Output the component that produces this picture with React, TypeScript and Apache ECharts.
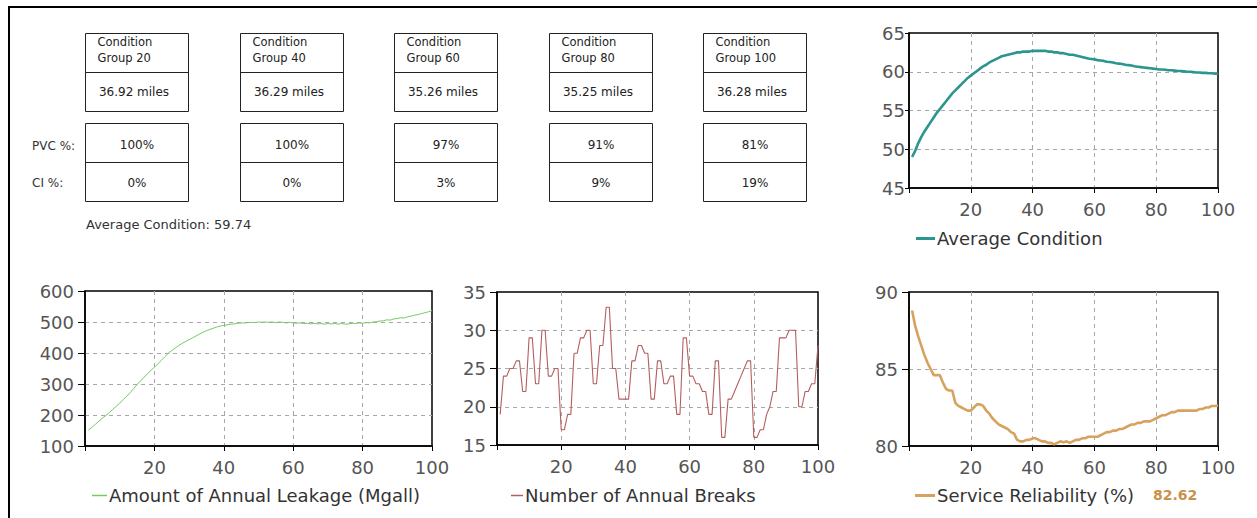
import React, { useEffect, useRef } from "react";
import * as echarts from "echarts";

// ---------- DATA ----------
const groupNames = ["Group 20", "Group 40", "Group 60", "Group 80", "Group 100"];
const groupMiles = ["36.92 miles", "36.29 miles", "35.26 miles", "35.25 miles", "36.28 miles"];
const pvcShares = ["100%", "100%", "97%", "91%", "81%"];
const ciShares = ["0%", "0%", "3%", "9%", "19%"];
const averageConditionText = "Average Condition: 59.74";
const reliabilityFinal = "82.62";

const xTicks = [0, 20, 40, 60, 80, 100];

const avgCondition = [
  49.0, 49.8, 50.8, 51.6, 52.3, 52.9, 53.5, 54.1, 54.7, 55.2,
  55.7, 56.2, 56.7, 57.2, 57.6, 58.0, 58.4, 58.8, 59.2, 59.5,
  59.8, 60.1, 60.4, 60.7, 60.9, 61.2, 61.4, 61.6, 61.8, 62.0,
  62.1, 62.2, 62.3, 62.4, 62.5, 62.5, 62.6, 62.6, 62.6, 62.7,
  62.7, 62.7, 62.7, 62.7, 62.6, 62.6, 62.5, 62.5, 62.4, 62.4,
  62.3, 62.2, 62.2, 62.1, 62.0, 61.9, 61.8, 61.7, 61.65, 61.6,
  61.5, 61.45, 61.4, 61.3, 61.25, 61.2, 61.1, 61.05, 61.0, 60.9,
  60.85, 60.8, 60.7, 60.65, 60.6, 60.55, 60.5, 60.45, 60.4, 60.35,
  60.3, 60.3, 60.25, 60.2, 60.2, 60.15, 60.1, 60.1, 60.05, 60.0,
  60.0, 59.95, 59.9, 59.9, 59.85, 59.85, 59.8, 59.8, 59.75, 59.74,
];

const annualLeakage = [
  152, 160, 170, 180, 190, 198, 208, 218, 228, 238,
  250, 260, 272, 285, 298, 310, 322, 333, 344, 354,
  365, 376, 388, 399, 408, 416, 424, 431, 437, 443,
  449, 455, 461, 467, 472, 476, 480, 484, 487, 489,
  491, 493, 494, 496, 497, 497, 498, 499, 498, 500,
  499, 500, 499, 500, 498, 500, 499, 497, 499, 497,
  496, 497, 495, 496, 494, 496, 494, 495, 493, 495,
  494, 495, 493, 495, 493, 494, 496, 495, 497, 496,
  498, 497, 500, 501, 503, 504, 507, 506, 510, 511,
  514, 513, 517, 519, 522, 524, 527, 530, 533, 537,
];

const annualBreaks = [
  19, 24, 24, 25, 25, 26, 26, 22, 22, 29,
  29, 23, 23, 30, 30, 24, 24, 25, 25, 17,
  17, 19, 19, 27, 27, 29, 29, 30, 30, 23,
  23, 28, 28, 33, 33, 25, 25, 21, 21, 21,
  21, 26, 26, 28, 28, 27, 27, 21, 21, 26,
  26, 23, 23, 24, 24, 19, 19, 29, 29, 24,
  24, 23, 23, 22, 22, 19, 19, 26, 26, 16,
  16, 21, 21, 22, 23, 24, 25, 26, 26, 16,
  16, 17, 17, 19, 20, 22, 22, 29, 29, 29,
  30, 30, 30, 20, 20, 22, 22, 23, 23, 28,
];

const serviceReliability = [
  88.8, 87.8, 87.1, 86.5, 85.9, 85.4, 85.0, 84.6, 84.6, 84.6,
  84.1, 83.7, 83.6, 83.6, 82.8, 82.6, 82.5, 82.4, 82.3, 82.3,
  82.5, 82.7, 82.7, 82.6, 82.3, 82.1, 81.8, 81.6, 81.4, 81.3,
  81.2, 81.1, 80.9, 80.8, 80.4, 80.3, 80.3, 80.4, 80.4, 80.5,
  80.5, 80.4, 80.3, 80.3, 80.2, 80.2, 80.1, 80.2, 80.3, 80.25,
  80.3, 80.2, 80.3, 80.4, 80.4, 80.5, 80.5, 80.6, 80.6, 80.6,
  80.6, 80.7, 80.8, 80.9, 80.9, 81.0, 81.0, 81.1, 81.1, 81.2,
  81.3, 81.4, 81.4, 81.5, 81.5, 81.6, 81.6, 81.6, 81.7, 81.8,
  81.9, 82.0, 82.0, 82.1, 82.2, 82.2, 82.3, 82.3, 82.3, 82.3,
  82.3, 82.3, 82.3, 82.4, 82.4, 82.5, 82.5, 82.6, 82.6, 82.62,
];

const legendNames = [
  "Average Condition",
  "Amount of Annual Leakage (Mgall)",
  "Number of Annual Breaks",
  "Service Reliability (%)",
];

// ---------- STYLE ----------
const FONT = '"DejaVu Sans", Verdana, sans-serif';
const colors = ["#2b958f", "#74c965", "#b45e5e", "#d6a25e"];
const lineWidths = [2.6, 1, 1.1, 2.6];

const grids = [
  { left: 909, top: 33, width: 309, height: 155 },
  { left: 85, top: 291, width: 347, height: 155 },
  { left: 497, top: 292, width: 321, height: 153 },
  { left: 909, top: 292, width: 309, height: 154 },
];
const yRanges = [
  { min: 45, max: 65, interval: 5 },
  { min: 100, max: 600, interval: 100 },
  { min: 15, max: 35, interval: 5 },
  { min: 80, max: 90, interval: 5 },
];
const legendPos = [
  { x: 916, y: 238, len: 19 },
  { x: 92, y: 495, len: 15 },
  { x: 511, y: 495, len: 12 },
  { x: 915, y: 495, len: 20 },
];

function buildOption() {
  const seriesData = [avgCondition, annualLeakage, annualBreaks, serviceReliability];

  const splitLine = {
    show: true,
    showMinLine: false,
    showMaxLine: false,
    lineStyle: { color: "#a8a8a8", type: [4, 4], width: 1 },
  };

  const xAxis = grids.map((_, i) => ({
    type: "value",
    gridIndex: i,
    min: xTicks[0],
    max: xTicks[xTicks.length - 1],
    interval: xTicks[1] - xTicks[0],
    axisLine: { show: true, onZero: false, lineStyle: { color: "#000", width: 1.5 } },
    axisTick: { show: true, length: 5, lineStyle: { color: "#000" } },
    axisLabel: {
      color: "#555",
      fontFamily: FONT,
      fontSize: 18,
      margin: 12,
      formatter: (v: number) => (v === 0 ? "" : String(v)),
    },
    splitLine,
  }));

  const yAxis = grids.map((_, i) => ({
    type: "value",
    gridIndex: i,
    min: yRanges[i].min,
    max: yRanges[i].max,
    interval: yRanges[i].interval,
    axisLine: { show: true, onZero: false, lineStyle: { color: "#000", width: 1.5 } },
    axisTick: { show: true, length: i === 0 ? 4 : 7, lineStyle: { color: "#000" } },
    axisLabel: { color: "#555", fontFamily: FONT, fontSize: 18, margin: i === 0 ? 4 : 11 },
    splitLine,
  }));

  const series = seriesData.map((arr, i) => ({
    type: "line",
    name: legendNames[i],
    xAxisIndex: i,
    yAxisIndex: i,
    showSymbol: false,
    symbol: "none",
    lineStyle: { color: colors[i], width: lineWidths[i] },
    data: arr.map((v, k) => [k + 1, v]),
  }));

  const graphic: any[] = [];
  // outer frame (top and left edges visible)
  graphic.push({
    type: "rect",
    shape: { x: 9, y: 7, width: 1400, height: 700 },
    style: { fill: "none", stroke: "#000", lineWidth: 2 },
  });

  // condition group boxes
  const boxW = 103;
  groupNames.forEach((g, i) => {
    const bx = Math.round(85 + i * 154.5) + 0.5;
    graphic.push({
      type: "rect",
      shape: { x: bx, y: 33.5, width: boxW, height: 78 },
      style: { fill: "none", stroke: "#222", lineWidth: 1 },
    });
    graphic.push({
      type: "line",
      shape: { x1: bx, y1: 72.5, x2: bx + boxW, y2: 72.5 },
      style: { stroke: "#222", lineWidth: 1 },
    });
    graphic.push({
      type: "rect",
      shape: { x: bx, y: 123.5, width: boxW, height: 78 },
      style: { fill: "none", stroke: "#222", lineWidth: 1 },
    });
    graphic.push({
      type: "line",
      shape: { x1: bx, y1: 162.5, x2: bx + boxW, y2: 162.5 },
      style: { stroke: "#222", lineWidth: 1 },
    });
    graphic.push({
      type: "text",
      x: bx + 12,
      y: 42,
      style: { text: "Condition", font: `11.5px ${FONT}`, fill: "#222", align: "left", verticalAlign: "middle" },
    });
    graphic.push({
      type: "text",
      x: bx + 12,
      y: 58,
      style: { text: g, font: `11.5px ${FONT}`, fill: "#222", align: "left", verticalAlign: "middle" },
    });
    graphic.push({
      type: "text",
      x: bx + boxW / 2 - 3,
      y: 92,
      style: { text: groupMiles[i], font: `12px ${FONT}`, fill: "#222", align: "center", verticalAlign: "middle" },
    });
    graphic.push({
      type: "text",
      x: bx + boxW / 2,
      y: 145,
      style: { text: pvcShares[i], font: `12px ${FONT}`, fill: "#222", align: "center", verticalAlign: "middle" },
    });
    graphic.push({
      type: "text",
      x: bx + boxW / 2,
      y: 183,
      style: { text: ciShares[i], font: `12px ${FONT}`, fill: "#222", align: "center", verticalAlign: "middle" },
    });
  });
  graphic.push({
    type: "text",
    x: 32,
    y: 146,
    style: { text: "PVC %:", font: `12px ${FONT}`, fill: "#333", align: "left", verticalAlign: "middle" },
  });
  graphic.push({
    type: "text",
    x: 32,
    y: 183,
    style: { text: "CI %:", font: `12px ${FONT}`, fill: "#333", align: "left", verticalAlign: "middle" },
  });
  graphic.push({
    type: "text",
    x: 86,
    y: 224,
    style: { text: averageConditionText, font: `13px ${FONT}`, fill: "#333", align: "left", verticalAlign: "middle" },
  });

  // legends
  legendPos.forEach((p, i) => {
    graphic.push({
      type: "line",
      shape: { x1: p.x, y1: p.y + 0.5, x2: p.x + p.len, y2: p.y + 0.5 },
      style: { stroke: colors[i], lineWidth: i === 0 || i === 3 ? 3 : 1.5 },
    });
    graphic.push({
      type: "text",
      x: p.x + p.len + 2,
      y: p.y,
      style: { text: legendNames[i], font: `18px ${FONT}`, fill: "#333", align: "left", verticalAlign: "middle" },
    });
  });
  graphic.push({
    type: "text",
    x: 1153,
    y: 495,
    style: { text: reliabilityFinal, font: `bold 14px ${FONT}`, fill: "#c8924c", align: "left", verticalAlign: "middle" },
  });

  return {
    animation: false,
    backgroundColor: "#fff",
    grid: grids.map((g) => ({ ...g, show: true, borderColor: "#000", borderWidth: 1.5, containLabel: false })),
    xAxis,
    yAxis,
    series,
    graphic,
  };
}

export default function App() {
  const ref = useRef<HTMLDivElement>(null);
  useEffect(() => {
    if (!ref.current) return;
    const chart = echarts.init(ref.current, undefined, { renderer: "svg" });
    chart.setOption(buildOption() as any);
    return () => chart.dispose();
  }, []);
  return (
    <div
      ref={ref}
      style={{ position: "absolute", left: 0, top: 0, width: 1257, height: 518, background: "#fff" }}
    />
  );
}
